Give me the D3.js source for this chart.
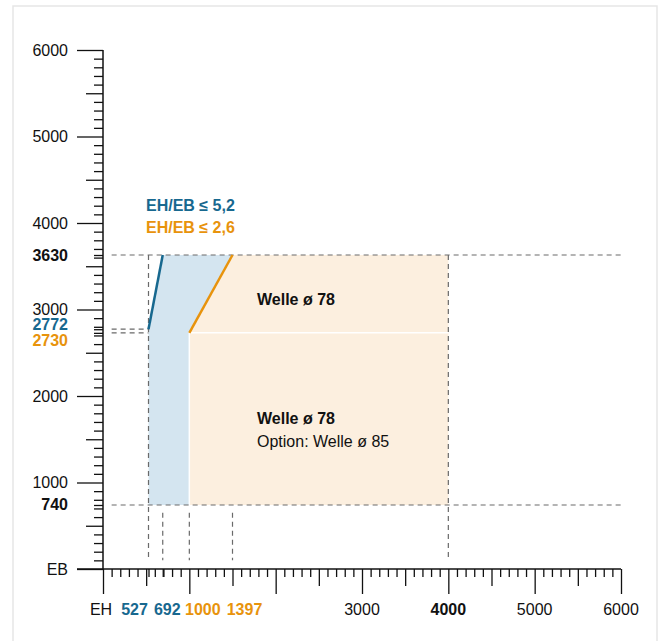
<!DOCTYPE html>
<html>
<head>
<meta charset="utf-8">
<script src="https://cdn.jsdelivr.net/npm/d3@7"></script>
<style>
  body { margin: 0; background: #fff; }
  svg text { font-family: "Liberation Sans", Arial, Helvetica, sans-serif; font-size: 16px; }
</style>
</head>
<body>
<div id="chart"></div>
<script>
// values
const axisMax = 6000;
const majorTicks = [1000, 2000, 3000, 4000, 5000, 6000];
const yTickLabels = ["1000", "2000", "3000", "4000", "5000", "6000"];
const xTickLabels = ["", "", "3000", "4000", "5000", "6000"];

const yMarks = [3630, 2772, 2730, 740];
const yMarkLabels = ["3630", "2772", "2730", "740"];
const yMarkColors = ["#111", "blue", "orange", "#111"];

const xMarks = [527, 692, 1000, 1500]; // 1397 is drawn at about 1500 in the original
const xMarkLabels = ["527", "692", "1000", "1397"];
const xMarkColors = ["blue", "blue", "orange", "orange"];

// EH/EB limit lines: [EH, EB] pairs
const blueLine = [[527, 2772], [692, 3630]];
const orangeLine = [[1000, 2730], [1500, 3630]];
const boxRight = 4000;
const legend = ["EH/EB ≤ 5,2", "EH/EB ≤ 2,6"];

const colors = {
  blue: "#17688f",
  orange: "#e8930c",
  blueFill: "#d4e5f0",
  orangeFill: "#fcefdf",
  dash: "#6a6a6a",
  ink: "#111",
};
const col = (c) => colors[c] || c;

const width = 664, height = 641;

const svg = d3.select("#chart").append("svg")
  .attr("width", width)
  .attr("height", height);

// card
svg.append("rect")
  .attr("x", 13).attr("y", 6)
  .attr("width", 644).attr("height", 650)
  .attr("fill", "#fff")
  .attr("stroke", "#e6e6e6")
  .attr("stroke-width", 1.5);

const x = d3.scaleLinear().domain([0, axisMax]).range([103, 621]);
const y = d3.scaleLinear().domain([0, axisMax]).range([569, 50]);

// regions
const blueArea = [
  [xMarks[0], yMarks[3]], blueLine[0], blueLine[1], orangeLine[1], orangeLine[0], [xMarks[2], yMarks[3]],
];
const orangeArea = [
  [xMarks[2], yMarks[3]], orangeLine[0], orangeLine[1], [boxRight, yMarks[0]], [boxRight, yMarks[3]],
];
const line = d3.line().x((d) => x(d[0])).y((d) => y(d[1]));

svg.append("path").attr("d", line(blueArea) + "Z").attr("fill", colors.blueFill);
svg.append("path").attr("d", line(orangeArea) + "Z").attr("fill", colors.orangeFill);

// white separators
svg.append("path")
  .attr("d", line([[xMarks[2], yMarks[3]], orangeLine[0], [boxRight, orangeLine[0][1]]]))
  .attr("fill", "none").attr("stroke", "#fff").attr("stroke-width", 1.5);

// dashed guides
const guides = [
  [[100, yMarks[0]], [axisMax, yMarks[0]]],
  [[100, yMarks[3]], [axisMax, yMarks[3]]],
  [[100, yMarks[1]], [xMarks[0], yMarks[1]]],
  [[100, yMarks[2]], [xMarks[0], yMarks[2]]],
  [[xMarks[0], yMarks[0]], [xMarks[0], 100]],
  [[xMarks[1], 650], [xMarks[1], 100]],
  [[xMarks[2], 650], [xMarks[2], 100]],
  [[xMarks[3], 650], [xMarks[3], 100]],
  [[boxRight, yMarks[0]], [boxRight, 100]],
];
svg.append("g").selectAll("path")
  .data(guides)
  .join("path")
  .attr("d", line)
  .attr("fill", "none")
  .attr("stroke", colors.dash)
  .attr("stroke-width", 1.2)
  .attr("stroke-dasharray", "5,4");

// limit lines
svg.append("path").attr("d", line(blueLine))
  .attr("stroke", colors.blue).attr("stroke-width", 2.5).attr("fill", "none");
svg.append("path").attr("d", line(orangeLine))
  .attr("stroke", colors.orange).attr("stroke-width", 2.5).attr("fill", "none");

// axes: minor / medium / major ticks
const all = d3.range(100, axisMax + 1, 100);
const minor = all.filter((v) => v % 500 !== 0).concat(yMarks);
const medium = all.filter((v) => v % 500 === 0 && v % 1000 !== 0);
const xMinor = all.filter((v) => v % 500 !== 0).concat(xMarks.filter((v) => v % 500 !== 0));

function ticks(axis, values, size) {
  return (g) => {
    g.call(axis.tickValues(values).tickSize(size).tickFormat(""));
    g.select(".domain").remove();
    g.selectAll("line").attr("stroke", colors.ink).attr("stroke-width", 1.3);
  };
}

const yAxisG = svg.append("g").attr("transform", `translate(${x(0)},0)`);
yAxisG.append("g").call(ticks(d3.axisLeft(y), minor, 9));
yAxisG.append("g").call(ticks(d3.axisLeft(y), medium, 17));
yAxisG.append("g").call(ticks(d3.axisLeft(y), [0].concat(majorTicks), 26));

const xAxisG = svg.append("g").attr("transform", `translate(0,${y(0)})`);
xAxisG.append("g").call(ticks(d3.axisBottom(x), xMinor, 8));
xAxisG.append("g").call(ticks(d3.axisBottom(x), medium, 17));
xAxisG.append("g").call(ticks(d3.axisBottom(x), [0].concat(majorTicks), 25));

// axis lines
svg.append("line")
  .attr("x1", x(0)).attr("x2", x(0)).attr("y1", y(axisMax)).attr("y2", y(0))
  .attr("stroke", colors.ink).attr("stroke-width", 1.5);
svg.append("line")
  .attr("x1", x(0) - 26).attr("x2", x(axisMax)).attr("y1", y(0)).attr("y2", y(0))
  .attr("stroke", colors.ink).attr("stroke-width", 1.5);

// y labels
const yLabelX = 68;
svg.append("g").selectAll("text")
  .data(majorTicks)
  .join("text")
  .attr("x", yLabelX)
  .attr("y", (d) => y(d))
  .attr("dy", "0.36em")
  .attr("text-anchor", "end")
  .attr("fill", colors.ink)
  .text((d, i) => yTickLabels[i]);

svg.append("text")
  .attr("x", yLabelX).attr("y", y(0)).attr("dy", "0.36em")
  .attr("text-anchor", "end").attr("fill", colors.ink).text("EB");

const yMarkShift = [0, -5, 7, -1];
svg.append("g").selectAll("text")
  .data(yMarks)
  .join("text")
  .attr("x", yLabelX)
  .attr("y", (d, i) => y(d) + yMarkShift[i])
  .attr("dy", "0.36em")
  .attr("text-anchor", "end")
  .attr("font-weight", "bold")
  .attr("fill", (d, i) => col(yMarkColors[i]))
  .text((d, i) => yMarkLabels[i]);

// x labels
const xLabelY = 609;
svg.append("g").selectAll("text")
  .data(majorTicks)
  .join("text")
  .attr("x", (d) => x(d))
  .attr("y", xLabelY)
  .attr("dy", "0.36em")
  .attr("text-anchor", "middle")
  .attr("font-weight", (d) => (d === boxRight ? "bold" : "normal"))
  .attr("fill", colors.ink)
  .text((d, i) => xTickLabels[i]);

svg.append("text")
  .attr("x", x(0) - 2).attr("y", xLabelY).attr("dy", "0.36em")
  .attr("text-anchor", "middle").attr("fill", colors.ink).text("EH");

const xMarkShift = [-14, 4.5, 13.5, 12];
svg.append("g").selectAll("text")
  .data(xMarks)
  .join("text")
  .attr("x", (d, i) => x(d) + xMarkShift[i])
  .attr("y", xLabelY)
  .attr("dy", "0.36em")
  .attr("text-anchor", "middle")
  .attr("font-weight", "bold")
  .attr("fill", (d, i) => col(xMarkColors[i]))
  .text((d, i) => xMarkLabels[i]);

// legend
svg.append("g").selectAll("text")
  .data(legend)
  .join("text")
  .attr("x", 146)
  .attr("y", (d, i) => 205 + i * 22)
  .attr("dy", "0.36em")
  .attr("font-weight", "bold")
  .attr("fill", (d, i) => (i === 0 ? colors.blue : colors.orange))
  .text((d) => d);

// region labels
const notes = svg.append("g").attr("fill", colors.ink);
notes.append("text").attr("x", 257).attr("y", 299).attr("dy", "0.36em")
  .attr("font-weight", "bold").text("Welle ø 78");
notes.append("text").attr("x", 257).attr("y", 418).attr("dy", "0.36em")
  .attr("font-weight", "bold").text("Welle ø 78");
notes.append("text").attr("x", 257).attr("y", 441).attr("dy", "0.36em")
  .text("Option: Welle ø 85");
</script>
</body>
</html>
